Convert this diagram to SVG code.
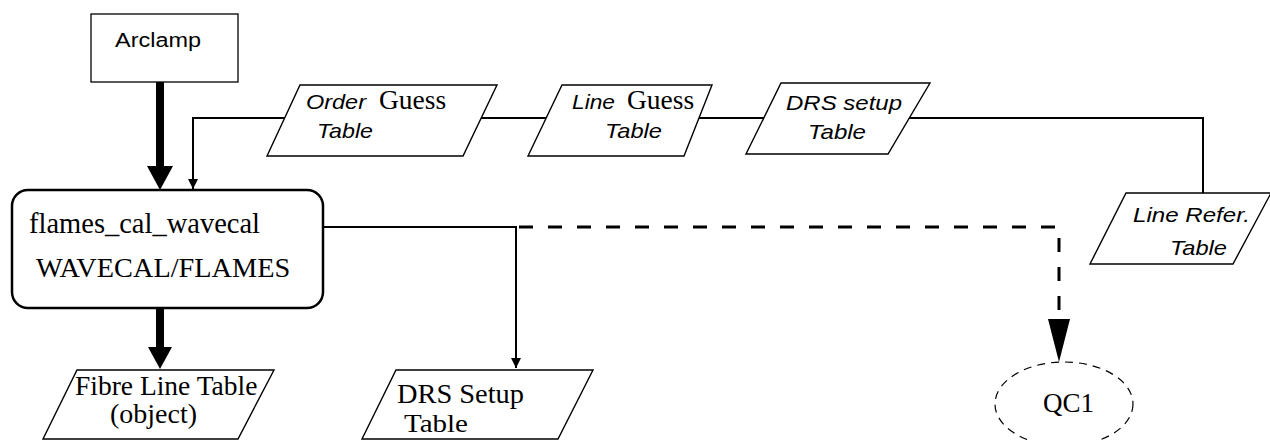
<svg xmlns="http://www.w3.org/2000/svg" width="1270" height="440" viewBox="0 0 1270 440">
<defs>
<style>
.bg{fill:#ffffff}
.box{fill:#ffffff;stroke:#000;stroke-width:1.3}
.proc{fill:#ffffff;stroke:#000;stroke-width:2.5}
.para{fill:#ffffff;stroke:#000;stroke-width:1.4}
.ln{fill:none;stroke:#000;stroke-width:2}
.thick{fill:none;stroke:#000;stroke-width:8}
.dash{fill:none;stroke:#000;stroke-width:3;stroke-dasharray:14 15}
.qc{fill:#ffffff;stroke:#000;stroke-width:1.2;stroke-dasharray:8 6}
.head{fill:#000;stroke:none}
.sans{font-family:"Liberation Sans",Arial,sans-serif;fill:#000}
.it{font-family:"Liberation Sans",Arial,sans-serif;font-style:italic;font-size:21px;fill:#000}
.serif{font-family:"Liberation Serif","Times New Roman",serif;fill:#000}
</style>
<marker id="arr" markerUnits="userSpaceOnUse" markerWidth="12" markerHeight="12" viewBox="0 0 12 12" refX="11" refY="6" orient="auto">
<path d="M1,1 L11,6 L1,11 Z" fill="#000"/>
</marker>
</defs>
<rect class="bg" x="0" y="0" width="1270" height="440"/>

<g id="connectors">
<line class="thick" x1="160" y1="82" x2="160" y2="167"/>
<polygon class="head" points="147,166 173,166 160,190"/>
<path class="ln" d="M285,118 H193 V189" marker-end="url(#arr)"/>
<line class="ln" x1="481" y1="118" x2="546" y2="118"/>
<line class="ln" x1="699" y1="118" x2="764" y2="118"/>
<path class="ln" d="M909,118 H1203 V193"/>
<line class="thick" x1="160" y1="308" x2="160" y2="348"/>
<polygon class="head" points="148,347 172,347 160,369"/>
<path class="ln" d="M323,227 H516 V368" marker-end="url(#arr)"/>
<path class="dash" d="M519,227 H1059 V319"/>
<polygon class="head" points="1048,319 1070,319 1059,362"/>
</g>

<g id="arclamp">
<rect class="box" x="91" y="14" width="147" height="68"/>
<text class="sans" x="115" y="47" font-size="20" textLength="86" lengthAdjust="spacingAndGlyphs">Arclamp</text>
</g>

<g id="order-guess">
<polygon class="para" points="300,85 497,85 463,156 267,156"/>
<text class="it" x="306" y="109" textLength="60" lengthAdjust="spacingAndGlyphs">Order</text>
<text class="serif" x="379" y="109" font-size="27.5">Guess</text>
<text class="it" x="317" y="138" textLength="56" lengthAdjust="spacingAndGlyphs">Table</text>
</g>

<g id="line-guess">
<polygon class="para" points="562,85 712,85 684,156 528,156"/>
<text class="it" x="572" y="109" textLength="43" lengthAdjust="spacingAndGlyphs">Line</text>
<text class="serif" x="627" y="109" font-size="27.5">Guess</text>
<text class="it" x="605" y="138" textLength="57" lengthAdjust="spacingAndGlyphs">Table</text>
</g>

<g id="drs-setup-in">
<polygon class="para" points="781,83 930,83 888,154 746,154"/>
<text class="it" x="786" y="110" textLength="116" lengthAdjust="spacingAndGlyphs">DRS setup</text>
<text class="it" x="808" y="139" textLength="58" lengthAdjust="spacingAndGlyphs">Table</text>
</g>

<g id="line-refer">
<polygon class="para" points="1126,193 1271,193 1233,264 1090,264"/>
<text class="it" x="1133" y="222" textLength="117" lengthAdjust="spacingAndGlyphs">Line Refer.</text>
<text class="it" x="1170" y="255" textLength="57" lengthAdjust="spacingAndGlyphs">Table</text>
</g>

<g id="wavecal">
<rect class="proc" x="12" y="190" width="311" height="118" rx="16" ry="16"/>
<text class="serif" x="29" y="233" font-size="28.5">flames_cal_wavecal</text>
<text class="serif" x="36" y="277" font-size="28.3">WAVECAL/FLAMES</text>
</g>

<g id="fibre-line">
<polygon class="para" points="77,370 274,370 238,439 43,439"/>
<text class="serif" x="75" y="395" font-size="27.5">Fibre Line Table</text>
<text class="serif" x="110" y="423" font-size="28">(object)</text>
</g>

<g id="drs-setup-out">
<polygon class="para" points="396,370 593,370 558,439 362,439"/>
<text class="serif" x="397" y="403" font-size="27" textLength="127" lengthAdjust="spacingAndGlyphs">DRS Setup</text>
<text class="serif" x="404" y="432" font-size="26" textLength="64" lengthAdjust="spacingAndGlyphs">Table</text>
</g>

<g id="qc1">
<ellipse class="qc" cx="1064" cy="404" rx="69" ry="42"/>
<text class="serif" x="1043" y="412" font-size="27">QC1</text>
</g>
</svg>
